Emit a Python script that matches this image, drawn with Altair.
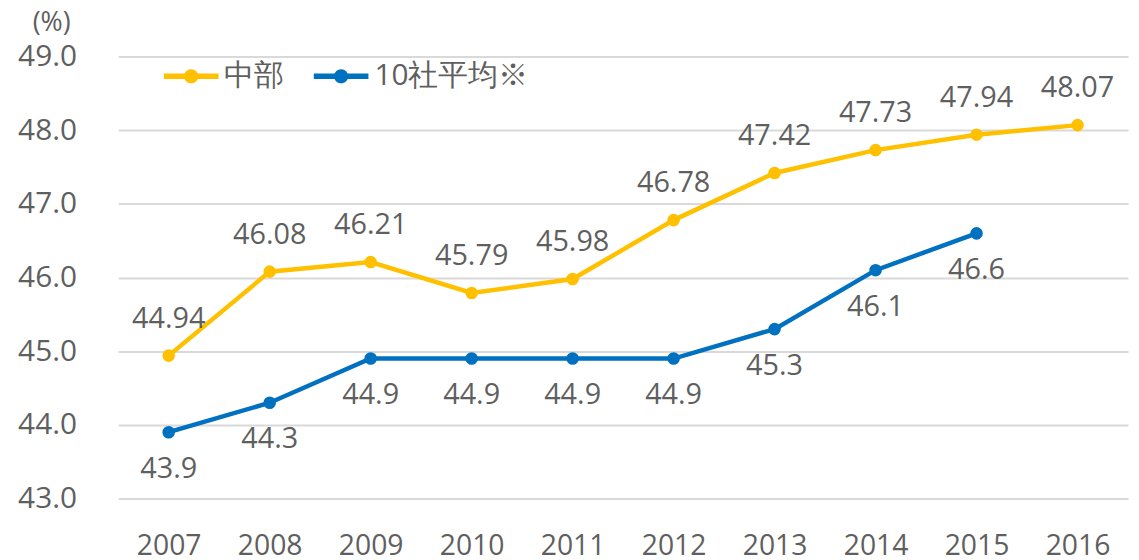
import altair as alt
import pandas as pd

years = ["2007", "2008", "2009", "2010", "2011", "2012", "2013", "2014", "2015", "2016"]
chubu = [44.94, 46.08, 46.21, 45.79, 45.98, 46.78, 47.42, 47.73, 47.94, 48.07]
avg10 = [43.9, 44.3, 44.9, 44.9, 44.9, 44.9, 45.3, 46.1, 46.6, None]
series_names = ["中部", "10社平均※"]
series_colors = ["#FFC000", "#0070C0"]
y_ticks = [43, 44, 45, 46, 47, 48, 49]
unit_label = ["(%)"]

rows = []
for y, a, b in zip(years, chubu, avg10):
    rows.append({"year": y, "series": series_names[0], "value": a,
                 "label": f"{a:.2f}"})
    if b is not None:
        rows.append({"year": y, "series": series_names[1], "value": b,
                     "label": f"{b:.1f}"})
df = pd.DataFrame(rows)

FONT = "Open Sans"
TXT = "#5f5f5f"

x = alt.X("year:O", title=None,
          scale=alt.Scale(type="point", padding=0.5),
          axis=alt.Axis(labelAngle=0, labelFontSize=28.5, labelColor=TXT,
                        labelFont=FONT, ticks=False, domain=False,
                        labelPadding=33, grid=False))
y = alt.Y("value:Q", title=None,
          scale=alt.Scale(domain=[43, 49], nice=False, zero=False),
          axis=alt.Axis(values=y_ticks, format=".1f", labelFontSize=30,
                        labelColor=TXT, labelFont=FONT, ticks=False,
                        domain=False, labelPadding=42, gridColor="#D9D9D9",
                        gridWidth=2))

color = alt.Color("series:N",
                  scale=alt.Scale(domain=series_names, range=series_colors),
                  legend=alt.Legend(
                      title=None, orient="none", direction="horizontal",
                      legendX=46, legendY=-8,
                      symbolType="M-1,-0.1H1V0.1H-1Z M-0.26,0A0.26,0.26 0 1 1 0.26,0A0.26,0.26 0 1 1 -0.26,0Z",
                      symbolSize=3025, symbolStrokeWidth=0,
                      labelFontSize=30, labelColor=TXT, labelFont=FONT,
                      columnPadding=30, labelOffset=6))

base = alt.Chart(df)

lines = base.mark_line(strokeWidth=4.5).encode(x=x, y=y, color=color)
points = base.mark_point(filled=True, size=160, opacity=1, shape="circle").encode(
    x=x, y=y, color=alt.Color("series:N", scale=alt.Scale(domain=series_names, range=series_colors), legend=None))

lab_top = base.transform_filter(alt.datum.series == series_names[0]).mark_text(
    fontSize=29, font=FONT, color=TXT, dy=-37).encode(x=x, y=y, text="label:N")
lab_bot = base.transform_filter(alt.datum.series == series_names[1]).mark_text(
    fontSize=29, font=FONT, color=TXT, dy=37).encode(x=x, y=y, text="label:N")

unit = alt.Chart(pd.DataFrame({"t": unit_label})).mark_text(
    fontSize=27, font=FONT, color=TXT, align="center", baseline="middle"
).encode(x=alt.value(-67), y=alt.value(-34), text="t:N")

chart = alt.layer(lines, points, lab_top, lab_bot, unit).properties(
    width=1017, height=445,
    autosize=alt.AutoSizeParams(type="none"),
    padding={"left": 111, "top": 47, "right": 3, "bottom": 60},
).configure_view(stroke=None).configure_legend(symbolFillColor="#000")

chart.save("out.html", embed_options={"renderer": "svg", "actions": False})
